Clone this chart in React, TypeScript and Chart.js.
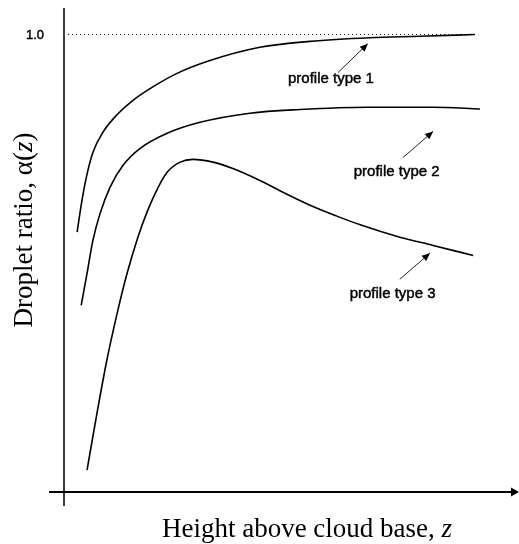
import React, { useEffect, useRef } from "react";
import { Chart, registerables } from "chart.js";

Chart.register(...registerables);

// Curve data (height above cloud base, droplet ratio)
const type1X = [0.27, 0.36, 0.47, 0.62, 0.84, 1.16, 1.51, 1.96, 2.49, 3.22, 4.33, 5.44, 6.78, 7.89, 9.11];
const type1Y = [0.568, 0.627, 0.686, 0.742, 0.786, 0.825, 0.856, 0.886, 0.915, 0.943, 0.972, 0.985, 0.993, 0.996, 1.0];

const type2X = [0.36, 0.49, 0.62, 0.78, 1.0, 1.29, 1.67, 2.27, 3.0, 4.11, 5.22, 6.71, 8.18, 9.22];
const type2Y = [0.408, 0.478, 0.55, 0.609, 0.666, 0.714, 0.751, 0.784, 0.808, 0.828, 0.836, 0.841, 0.841, 0.837];

const type3X = [0.49, 0.71, 0.93, 1.16, 1.38, 1.62, 1.84, 2.07, 2.27, 2.56, 2.84, 3.29, 3.73, 4.33, 4.93, 5.51, 6.04, 6.56, 7.44, 8.18, 9.07];
const type3Y = [0.048, 0.172, 0.288, 0.391, 0.478, 0.557, 0.616, 0.666, 0.699, 0.721, 0.727, 0.721, 0.707, 0.681, 0.651, 0.624, 0.603, 0.584, 0.557, 0.539, 0.517];

// Reference line at alpha = 1.0
const refLineX = [0.07, 9.1];
const refLineY = [1.0, 1.0];
const yTickValues = [1.0];
const yTickLabels = ["1.0"];

// Annotations
const labelTexts = ["profile type 1", "profile type 2", "profile type 3"];
const labelX = [5.91, 7.37, 7.28];
const labelY = [0.902, 0.699, 0.434];
const arrowTailX = [6.07, 7.51, 7.44];
const arrowTailY = [0.917, 0.731, 0.465];
const arrowHeadX = [6.73, 8.18, 8.11];
const arrowHeadY = [0.98, 0.788, 0.522];

const xTitleMain = "Height above cloud base, ";
const xTitleVar = "z";
const yTitleMain = "Droplet ratio, \u03b1(";
const yTitleVar = "z";
const yTitleEnd = ")";

const toPts = (xs: number[], ys: number[]) => xs.map((x, i) => ({ x, y: ys[i] }));

const drawArrowHead = (ctx: CanvasRenderingContext2D, x1: number, y1: number, x2: number, y2: number, len: number, half: number) => {
  const a = Math.atan2(y2 - y1, x2 - x1);
  ctx.beginPath();
  ctx.moveTo(x2, y2);
  ctx.lineTo(x2 - len * Math.cos(a) + half * Math.sin(a), y2 - len * Math.sin(a) - half * Math.cos(a));
  ctx.lineTo(x2 - len * Math.cos(a) - half * Math.sin(a), y2 - len * Math.sin(a) + half * Math.cos(a));
  ctx.closePath();
  ctx.fill();
};

const heavyText = (ctx: CanvasRenderingContext2D, t: string, x: number, y: number) => {
  ctx.fillText(t, x, y);
  ctx.save();
  ctx.lineWidth = 0.45;
  ctx.strokeStyle = "#000";
  ctx.strokeText(t, x, y);
  ctx.restore();
};

const decorPlugin = {
  id: "decor",
  afterDatasetsDraw(chart: any) {
    const ctx: CanvasRenderingContext2D = chart.ctx;
    const xs = chart.scales.x;
    const ys = chart.scales.y;
    const area = chart.chartArea;
    const x0 = xs.getPixelForValue(0);
    const y0 = ys.getPixelForValue(0);
    ctx.save();

    // Y axis
    ctx.strokeStyle = "#3a3a3a";
    ctx.lineWidth = 2;
    ctx.beginPath();
    ctx.moveTo(x0 - 1, area.top);
    ctx.lineTo(x0 - 1, y0 + 14);
    ctx.stroke();

    // X axis with arrow
    ctx.strokeStyle = "#000";
    ctx.fillStyle = "#000";
    ctx.lineWidth = 2;
    ctx.beginPath();
    ctx.moveTo(x0 - 16, y0);
    ctx.lineTo(chart.width - 6, y0);
    ctx.stroke();
    drawArrowHead(ctx, x0, y0, chart.width, y0, 8, 4.5);

    // Y tick labels
    ctx.font = "13px 'Liberation Sans', Arial, sans-serif";
    ctx.textAlign = "center";
    ctx.textBaseline = "middle";
    yTickValues.forEach((v, i) => {
      heavyText(ctx, yTickLabels[i], 35, ys.getPixelForValue(v) + 1);
    });

    // Annotations
    ctx.font = "15px 'Liberation Sans', Arial, sans-serif";
    labelTexts.forEach((t, i) => {
      ctx.fillStyle = "#000";
      heavyText(ctx, t, xs.getPixelForValue(labelX[i]), ys.getPixelForValue(labelY[i]));
      const tx = xs.getPixelForValue(arrowTailX[i]);
      const ty = ys.getPixelForValue(arrowTailY[i]);
      const hx = xs.getPixelForValue(arrowHeadX[i]);
      const hy = ys.getPixelForValue(arrowHeadY[i]);
      ctx.lineWidth = 1;
      ctx.strokeStyle = "#222";
      ctx.beginPath();
      ctx.moveTo(tx, ty);
      ctx.lineTo(hx, hy);
      ctx.stroke();
      drawArrowHead(ctx, tx, ty, hx, hy, 8, 3.5);
    });

    // X title
    const serif = "'Liberation Serif', 'Times New Roman', serif";
    ctx.fillStyle = "#000";
    ctx.textBaseline = "alphabetic";
    ctx.textAlign = "left";
    ctx.font = `27px ${serif}`;
    const w1 = ctx.measureText(xTitleMain).width;
    ctx.font = `italic 27px ${serif}`;
    const w2 = ctx.measureText(xTitleVar).width;
    const sx = 307 - (w1 + w2) / 2;
    ctx.font = `27px ${serif}`;
    ctx.fillText(xTitleMain, sx, 537);
    ctx.font = `italic 27px ${serif}`;
    ctx.fillText(xTitleVar, sx + w1, 537);

    // Y title (rotated)
    ctx.save();
    ctx.translate(32, 230);
    ctx.rotate(-Math.PI / 2);
    ctx.font = `27px ${serif}`;
    const a1 = ctx.measureText(yTitleMain).width;
    const a3 = ctx.measureText(yTitleEnd).width;
    ctx.font = `italic 27px ${serif}`;
    const a2 = ctx.measureText(yTitleVar).width;
    const px = -(a1 + a2 + a3) / 2;
    ctx.font = `27px ${serif}`;
    ctx.fillText(yTitleMain, px, 0);
    ctx.font = `italic 27px ${serif}`;
    ctx.fillText(yTitleVar, px + a1, 0);
    ctx.font = `27px ${serif}`;
    ctx.fillText(yTitleEnd, px + a1 + a2, 0);
    ctx.restore();

    ctx.restore();
  },
};

export default function App() {
  const ref = useRef<HTMLCanvasElement | null>(null);
  useEffect(() => {
    if (!ref.current) return;
    const curve = (xs: number[], ys: number[]) => ({
      data: toPts(xs, ys),
      borderColor: "#000",
      borderWidth: 1.6,
      pointRadius: 0,
      fill: false,
      showLine: true,
      cubicInterpolationMode: "monotone" as const,
    });
    const chart = new Chart(ref.current, {
      type: "scatter",
      data: {
        datasets: [
          {
            data: toPts(refLineX, refLineY),
            borderColor: "#000",
            borderWidth: 1,
            borderDash: [1, 3],
            pointRadius: 0,
            showLine: true,
            fill: false,
          },
          curve(type1X, type1Y),
          curve(type2X, type2Y),
          curve(type3X, type3Y),
        ] as any,
      },
      options: {
        animation: false,
        responsive: false,
        layout: { padding: { left: 65, right: 4, top: 8, bottom: 52 } },
        plugins: { legend: { display: false }, tooltip: { enabled: false } },
        scales: {
          x: { type: "linear", min: 0, max: 10, display: false },
          y: { type: "linear", min: 0, max: 1.0579, display: false },
        },
      },
      plugins: [decorPlugin],
    });
    return () => chart.destroy();
  }, []);
  return (
    <div style={{ position: "fixed", left: 0, top: 0, width: 519, height: 544, background: "#fff" }}>
      <canvas ref={ref} width={519} height={544} />
    </div>
  );
}
